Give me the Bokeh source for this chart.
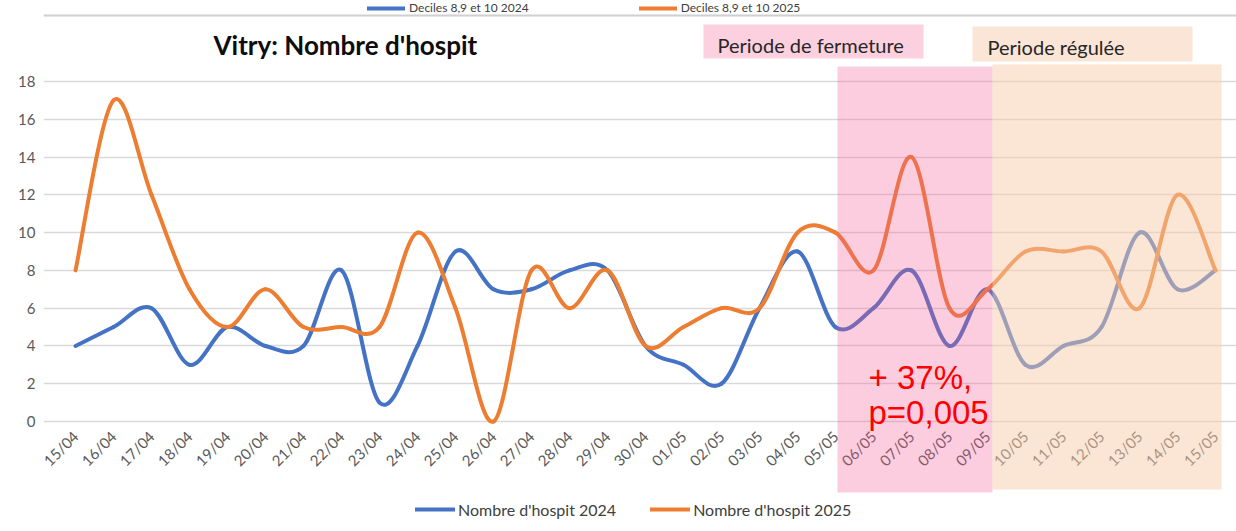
import math
from bokeh.plotting import figure
from bokeh.models import (FixedTicker, BoxAnnotation, Label, Legend, LegendItem,
                          Span, Range1d, ColumnDataSource)
from bokeh.embed import file_html
from bokeh.resources import INLINE

# ---------------- data ----------------
dates = ["15/04", "16/04", "17/04", "18/04", "19/04", "20/04", "21/04", "22/04",
         "23/04", "24/04", "25/04", "26/04", "27/04", "28/04", "29/04", "30/04",
         "01/05", "02/05", "03/05", "04/05", "05/05", "06/05", "07/05", "08/05",
         "09/05", "10/05", "11/05", "12/05", "13/05", "14/05", "15/05"]
hosp_2024 = [4, 5, 6, 3, 5, 4, 4, 8, 1, 4, 9, 7, 7, 8, 8, 4,
             3, 2, 6, 9, 5, 6, 8, 4, 7, 3, 4, 5, 10, 7, 8]
hosp_2025 = [8, 17, 12, 7, 5, 7, 5, 5, 5, 10, 6, 0, 8, 6, 8, 4,
             5, 6, 6, 10, 10, 8, 14, 6, 7, 9, 9, 9, 6, 12, 8]
y_ticks = [0, 2, 4, 6, 8, 10, 12, 14, 16, 18]
series_labels = ["Nombre d'hospit 2024", "Nombre d'hospit 2025"]
top_legend_labels = ["Deciles 8,9 et 10 2024", "Deciles 8,9 et 10 2025"]
title_text = "Vitry: Nombre d'hospit"
closure_label = "Periode de fermeture"
regulated_label = "Periode régulée"
closure_start, closure_end = "05/05", "09/05"
regulated_start, regulated_end = "09/05", "15/05"
annot_lines = ["+ 37%,", "p=0,005"]

BLUE = "#4472C4"
ORANGE = "#ED7D31"

W, H = 1236, 531
# pixel layout helpers (figure pixels)
X0_PAGE, DX = 75.0, 38.0          # x of first category, px per category
Y0_PAGE, DY = 421.0, 340.0 / 18   # y of value 0, px per unit
FRAME_L, FRAME_R, FRAME_T, FRAME_B = 43.0, 1236.0, 0.0, 531.0


def px(page_x):
    return (page_x - X0_PAGE) / DX


def py(page_y):
    return (Y0_PAGE - page_y) / DY


xs = list(range(len(dates)))

p = figure(width=W, height=H, output_backend="svg", toolbar_location=None,
           x_range=Range1d(px(FRAME_L), px(FRAME_R)),
           y_range=Range1d(py(FRAME_B), py(FRAME_T)),
           min_border_left=int(FRAME_L), min_border_right=0,
           min_border_top=0, min_border_bottom=0)
p.outline_line_color = None
p.background_fill_color = "white"
p.border_fill_color = "white"

# grid
p.xgrid.visible = False
p.ygrid.ticker = FixedTicker(ticks=y_ticks)
p.ygrid.grid_line_color = "#d9d9d9"
p.ygrid.grid_line_width = 1.5

# y axis
p.yaxis.ticker = FixedTicker(ticks=y_ticks)
p.yaxis.axis_line_color = None
p.yaxis.major_tick_line_color = None
p.yaxis.minor_tick_line_color = None
p.yaxis.major_label_text_font = "Lato"
p.yaxis.major_label_text_font_size = "15px"
p.yaxis.major_label_text_color = "#595959"
p.yaxis.major_label_standoff = 2

# x axis placed at y = 0
p.xaxis.fixed_location = 0
p.xaxis.ticker = FixedTicker(ticks=xs)
p.xaxis.major_label_overrides = {i: d for i, d in enumerate(dates)}
p.xaxis.major_label_orientation = math.pi / 4
p.xaxis.axis_line_color = None
p.xaxis.major_tick_line_color = None
p.xaxis.minor_tick_line_color = None
p.xaxis.major_label_text_font = "Lato"
p.xaxis.major_label_text_font_size = "15px"
p.xaxis.major_label_text_color = "#595959"
p.xaxis.major_label_standoff = 6


def smooth_segments(x, y):
    """Bezier segments through the data points (Catmull-Rom style smoothing)."""
    n = len(y)
    d = dict(x0=[], y0=[], x1=[], y1=[], cx0=[], cy0=[], cx1=[], cy1=[])
    for i in range(n - 1):
        ym = y[i - 1] if i > 0 else y[i]
        xm = x[i - 1] if i > 0 else x[i]
        yp = y[i + 2] if i + 2 < n else y[i + 1]
        xp = x[i + 2] if i + 2 < n else x[i + 1]
        d["x0"].append(x[i]); d["y0"].append(y[i])
        d["x1"].append(x[i + 1]); d["y1"].append(y[i + 1])
        d["cx0"].append(x[i] + (x[i + 1] - xm) / 6.0)
        d["cy0"].append(y[i] + (y[i + 1] - ym) / 6.0)
        d["cx1"].append(x[i + 1] - (xp - x[i]) / 6.0)
        d["cy1"].append(y[i + 1] - (yp - y[i]) / 6.0)
    return ColumnDataSource(d)


renderers = []
for vals, col in ((hosp_2024, BLUE), (hosp_2025, ORANGE)):
    r = p.bezier(x0="x0", y0="y0", x1="x1", y1="y1", cx0="cx0", cy0="cy0",
                 cx1="cx1", cy1="cy1", source=smooth_segments(xs, vals),
                 line_color=col, line_width=4, line_cap="round")
    renderers.append(r)

# top screenshot border line
p.add_layout(Span(location=py(15), dimension="width", line_color="#d0d0d0",
                  line_width=2))

# legend of the slide above, squeezed into the top strip
top_legend = Legend(items=[LegendItem(label=top_legend_labels[0], renderers=[renderers[0]]),
                           LegendItem(label=top_legend_labels[1], renderers=[renderers[1]])],
                    orientation="horizontal", location=(367 - FRAME_L, 531 - 15),
                    padding=0, margin=0, spacing=110, glyph_width=38, glyph_height=10,
                    label_standoff=4, label_text_font="Lato",
                    label_text_font_size="12px", label_text_color="#404040",
                    label_height=10,
                    background_fill_alpha=0, border_line_color=None)
p.add_layout(top_legend)

# shaded period bands (overlay above the lines, as in the screenshot)
ci0, ci1 = dates.index(closure_start), dates.index(closure_end)
ri0, ri1 = dates.index(regulated_start), dates.index(regulated_end)
p.add_layout(BoxAnnotation(left=ci0 + px(837) - px(835), right=ci1 + px(992) - px(987),
                           top=py(66), bottom=py(492),
                           fill_color=(241, 88, 145), fill_alpha=0.3,
                           line_color=None))
p.add_layout(BoxAnnotation(left=ri0 + px(992) - px(987), right=ri1 + px(1221) - px(1215),
                           top=py(64), bottom=py(489),
                           fill_color=(247, 203, 169), fill_alpha=0.5,
                           line_color=None))

# label boxes above
p.add_layout(BoxAnnotation(left=px(703), right=px(923), top=py(24), bottom=py(58),
                           fill_color="#fcd0de", fill_alpha=1.0, line_color=None))
p.add_layout(BoxAnnotation(left=px(972), right=px(1192), top=py(26), bottom=py(61),
                           fill_color="#fbe5d6", fill_alpha=1.0, line_color=None))

p.add_layout(Label(x=px(717), y=py(44), text=closure_label, text_font="Lato",
                   text_font_size="20px", text_color="#262626",
                   text_baseline="middle", text_align="left"))
p.add_layout(Label(x=px(987), y=py(46), text=regulated_label, text_font="Lato",
                   text_font_size="20px", text_color="#262626",
                   text_baseline="middle", text_align="left"))

# title
p.add_layout(Label(x=px(213), y=py(44), text=title_text, text_font="Lato",
                   text_font_style="bold", text_font_size="26px",
                   text_color="#0d0d0d", text_baseline="middle", text_align="left"))

# red annotation
for txt, yy in zip(annot_lines, (377, 412)):
    p.add_layout(Label(x=px(868), y=py(yy), text=txt, text_font="Liberation Sans",
                       text_font_size="33px", text_color="#ff0000",
                       text_baseline="middle", text_align="left"))

# bottom legend
legend = Legend(items=[LegendItem(label=series_labels[0], renderers=[renderers[0]]),
                       LegendItem(label=series_labels[1], renderers=[renderers[1]])],
                orientation="horizontal", location=(415 - FRAME_L, 531 - 519),
                padding=0, margin=0, spacing=34, glyph_width=40, glyph_height=20,
                label_standoff=3, label_text_font="Lato",
                label_text_font_size="16px", label_text_color="#404040",
                background_fill_alpha=0, border_line_color=None)
p.add_layout(legend)

open("out.html", "w").write(file_html(p, INLINE))
